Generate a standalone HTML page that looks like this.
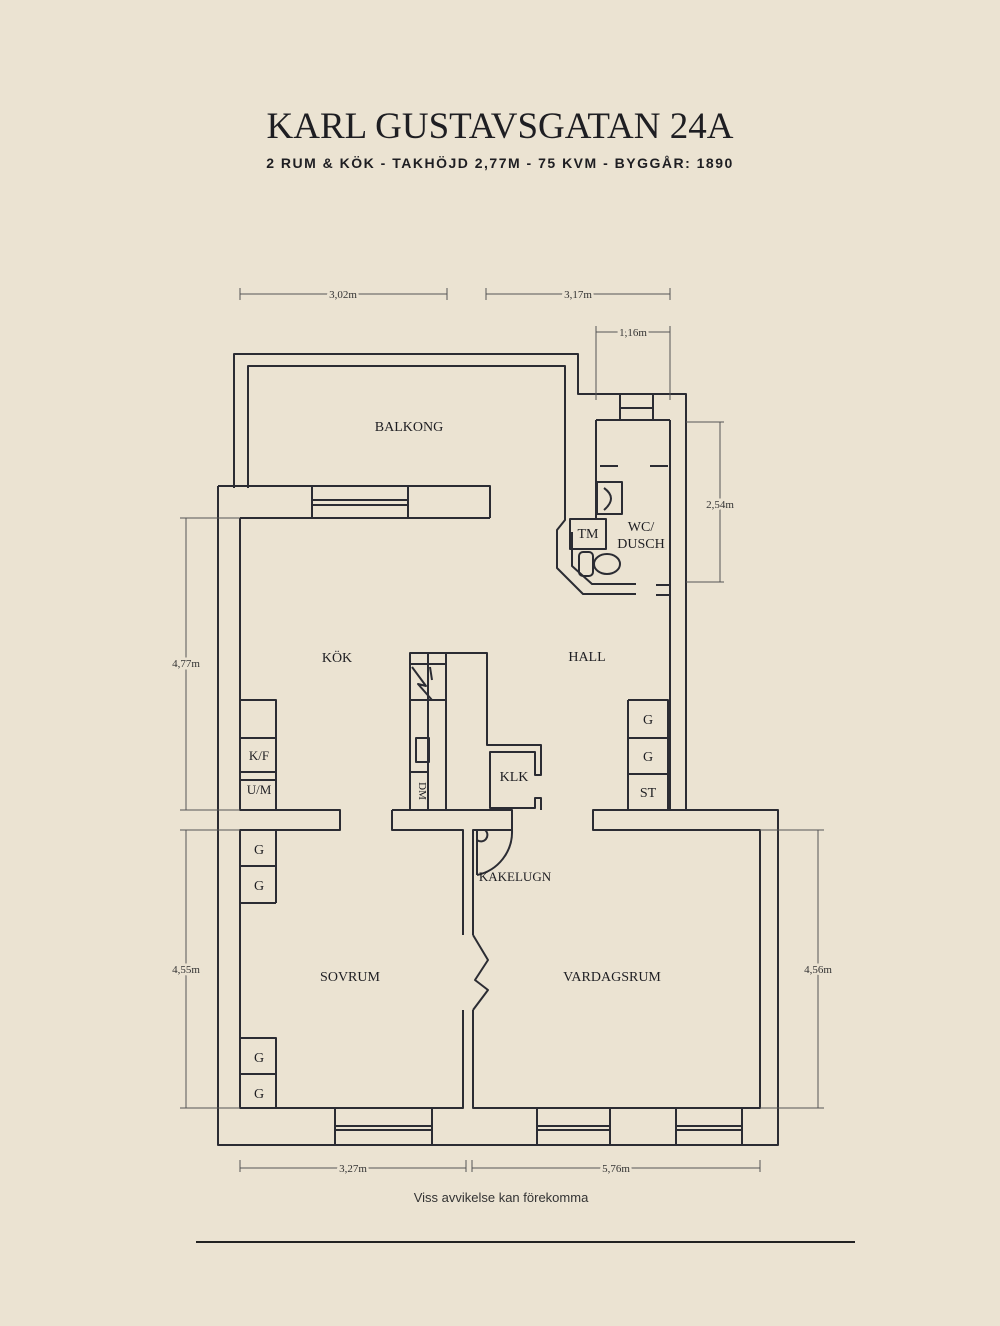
<!DOCTYPE html>
<html><head><meta charset="utf-8"><style>
html,body{margin:0;padding:0;background:#ebe3d2;}
svg{display:block}
</style></head><body>
<svg width="1000" height="1326" viewBox="0 0 1000 1326" xmlns="http://www.w3.org/2000/svg">
<rect width="1000" height="1326" fill="#ebe3d2"/>
<text x="500" y="138" text-anchor="middle" font-family="Liberation Serif, serif" font-size="37" fill="#1e1e22">KARL GUSTAVSGATAN 24A</text>
<text x="500" y="168" text-anchor="middle" font-family="Liberation Sans, sans-serif" font-weight="bold" font-size="14" letter-spacing="1.5" fill="#1e1e22">2 RUM &amp; KÖK - TAKHÖJD 2,77M  -  75 KVM  -  BYGGÅR: 1890</text>

<g fill="none" stroke="#2b2c33" stroke-width="2" stroke-linejoin="round">
<path d="M234 488 V354 H578 V394 H686 V810"/>
<path d="M248 488 V366 H565 V520 L557 530 V568 L583 594 H636"/>
<path d="M572 532 V566 L592 584 H636"/>
<path d="M218 486 H490 V518"/>
<path d="M240 518 H490"/>
<path d="M312 486 V518 M408 486 V518 M312 500 H408 M312 505 H408"/>
<path d="M218 486 V1145 H778 V810 H593 V830 H760 V1108 H473 V1010"/>
<path d="M240 518 V810 H340 V830 H240 V1108 H463 V1010"/>
<path d="M335 1108 V1145 M432 1108 V1145 M335 1126 H432 M335 1130 H432"/>
<path d="M537 1108 V1145 M610 1108 V1145 M537 1126 H610 M537 1130 H610"/>
<path d="M676 1108 V1145 M742 1108 V1145 M676 1126 H742 M676 1130 H742"/>
<path d="M670 420 V585 M656 585 H670 V595 H656 M670 595 V810"/>
<path d="M596 420 H670 M596 420 V518"/>
<path d="M620 394 V420 M653 394 V420 M620 408 H653"/>
<path d="M600 466 H618 M650 466 H668"/>
<rect x="597" y="482" width="25" height="32"/>
<path d="M604 488 Q618 498 604 510" />
<rect x="570" y="519" width="36" height="30"/>
<ellipse cx="607" cy="564" rx="13" ry="10"/>
<rect x="579" y="552" width="14" height="24" rx="4"/>
<path d="M392 810 H512 V830 H473 V935 M463 935 V830 H392 V810"/>
<path d="M410 810 V653 H487 V745 H541 V775 H535 V752 H490 V808 H535 V798 H541 V810"/>
<path d="M428 810 V653 M446 810 V653 M410 664 H446 M410 700 H446 M410 772 H428"/>
<path d="M412 667 L426 686 L418 684 L432 700 M432 680 L430 667"/>
<rect x="416" y="738" width="13" height="24"/>
<path d="M477 830 V875 M477 875 A44 44 0 0 0 512 830 M477 840 A6 6 0 0 0 485 830"/>
<path d="M473 935 L488 960 L475 980 L488 990 L473 1010"/>
<path d="M240 700 H276 V810 M240 738 H276 M240 772 H276 M240 780 H276"/>
<path d="M240 830 H276 V903 M240 866 H276 M240 903 H276"/>
<path d="M240 1038 H276 V1108 M240 1074 H276"/>
<path d="M628 700 H668 V810 M628 700 V810 M628 738 H668 M628 774 H668"/>
</g>

<g font-family="Liberation Serif, serif" font-size="14" fill="#1e1e22" text-anchor="middle">
<text x="409" y="431">BALKONG</text>
<text x="337" y="662">KÖK</text>
<text x="587" y="661">HALL</text>
<text x="350" y="981">SOVRUM</text>
<text x="612" y="981">VARDAGSRUM</text>
<text x="515" y="881" font-size="13">KAKELUGN</text>
<text x="514" y="781">KLK</text>
<text x="641" y="531">WC/</text>
<text x="641" y="548">DUSCH</text>
<text x="588" y="538">TM</text>
<text x="259" y="760" font-size="13">K/F</text>
<text x="259" y="794" font-size="13">U/M</text>
<text x="259" y="854">G</text>
<text x="259" y="890">G</text>
<text x="259" y="1062">G</text>
<text x="259" y="1098">G</text>
<text x="648" y="724">G</text>
<text x="648" y="761">G</text>
<text x="648" y="797">ST</text>
<text x="419" y="791" font-size="11" transform="rotate(90 419 791)">DM</text>
</g>

<g stroke="#555" stroke-width="1" fill="none">
<path d="M240 294 H447 M240 288 V300 M447 288 V300"/>
<path d="M486 294 H670 M486 288 V300 M670 288 V300"/>
<path d="M596 332 H670 M596 326 V400 M670 326 V400"/>
<path d="M720 422 V582 M686 422 H724 M686 582 H724"/>
<path d="M186 518 V810 M180 518 H240 M180 810 H240"/>
<path d="M186 830 V1108 M180 830 H240 M180 1108 H240"/>
<path d="M818 830 V1108 M760 830 H824 M760 1108 H824"/>
<path d="M240 1168 H466 M240 1160 V1172 M466 1160 V1172"/>
<path d="M472 1168 H760 M472 1160 V1172 M760 1160 V1172"/>
</g>
<g font-family="Liberation Serif, serif" font-size="11" fill="#333" text-anchor="middle">
<text x="343" y="298" style="paint-order:stroke" stroke="#ebe3d2" stroke-width="5">3,02m</text>
<text x="578" y="298" style="paint-order:stroke" stroke="#ebe3d2" stroke-width="5">3,17m</text>
<text x="633" y="336" style="paint-order:stroke" stroke="#ebe3d2" stroke-width="5">1,16m</text>
<text x="720" y="508" style="paint-order:stroke" stroke="#ebe3d2" stroke-width="5">2,54m</text>
<text x="186" y="667" style="paint-order:stroke" stroke="#ebe3d2" stroke-width="5">4,77m</text>
<text x="186" y="973" style="paint-order:stroke" stroke="#ebe3d2" stroke-width="5">4,55m</text>
<text x="818" y="973" style="paint-order:stroke" stroke="#ebe3d2" stroke-width="5">4,56m</text>
<text x="353" y="1172" style="paint-order:stroke" stroke="#ebe3d2" stroke-width="5">3,27m</text>
<text x="616" y="1172" style="paint-order:stroke" stroke="#ebe3d2" stroke-width="5">5,76m</text>
</g>
<text x="501" y="1202" text-anchor="middle" font-family="Liberation Sans, sans-serif" font-size="13" fill="#333">Viss avvikelse kan förekomma</text>
<path d="M196 1242 H855" stroke="#222" stroke-width="2"/>
</svg>
</body></html>
